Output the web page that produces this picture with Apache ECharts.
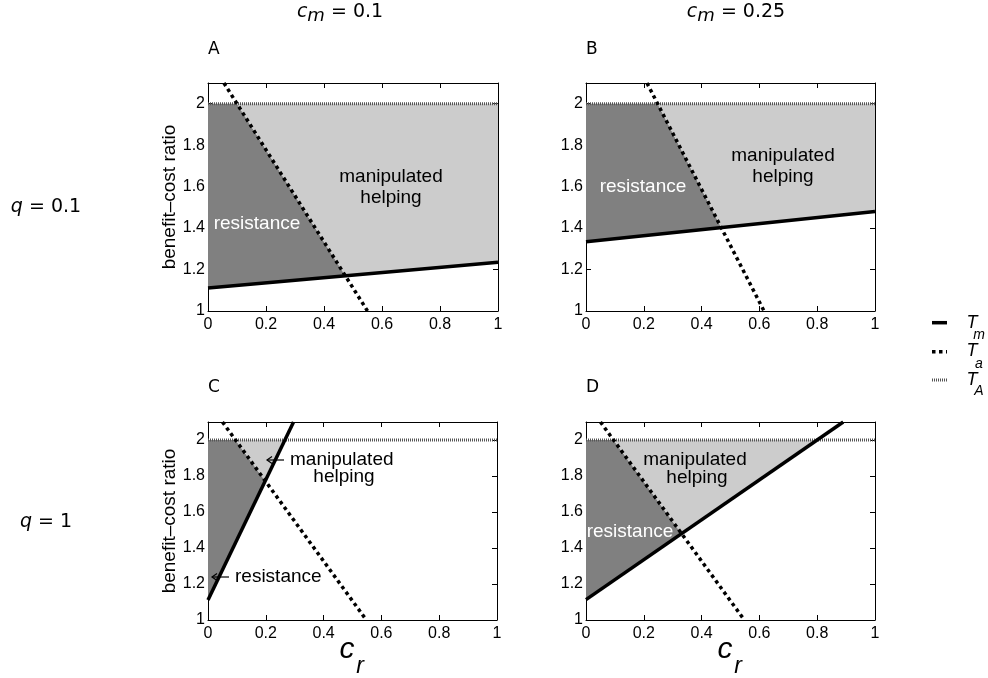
<!DOCTYPE html>
<html><head><meta charset="utf-8">
<script src="https://cdn.jsdelivr.net/npm/echarts@6/dist/echarts.min.js"></script>
<style>html,body{margin:0;padding:0;background:#fff}#c{width:988px;height:678px}</style>
</head><body><div id="c"></div>
<script>
// ---------- data ----------
const crTicks = [0, 0.2, 0.4, 0.6, 0.8, 1];
const ratioTicks = [1, 1.2, 1.4, 1.6, 1.8, 2];
const ratioMax = 2.1;
const panelNames = ['A', 'B', 'C', 'D'];
const cmLabels = ['0.1', '0.25'];
const qLabels = ['0.1', '1'];
// T_m (solid), T_a (dotted), T_A (fine dotted) as [c_r, benefit-cost ratio] points
const TmA = [[0, 1.111], [1, 1.235]];
const TaA = [[0.055, 2.1], [0.55, 1.0]];
const TmB = [[0, 1.334], [1, 1.48]];
const TaB = [[0.211, 2.1], [0.616, 1.0]];
const TmC = [[0, 1.111], [0.296, 2.1]];
const TaC = [[0.05, 2.1], [0.548, 1.0]];
const TmD = [[0, 1.113], [0.89, 2.1]];
const TaD = [[0.05, 2.1], [0.548, 1.0]];
const TA = [[0, 2], [1, 2]];
const TmAll = [TmA, TmB, TmC, TmD];
const TaAll = [TaA, TaB, TaC, TaD];

// ---------- helpers ----------
function lineY(seg, x) {
  const [[x1, y1], [x2, y2]] = seg;
  return y1 + (x - x1) * (y2 - y1) / (x2 - x1);
}
function clip(poly, h) {
  const out = [];
  for (let i = 0; i < poly.length; i++) {
    const a = poly[i], b = poly[(i + 1) % poly.length];
    const ha = h(a), hb = h(b);
    if (ha >= 0) out.push(a);
    if ((ha >= 0) !== (hb >= 0)) {
      const t = ha / (ha - hb);
      out.push([a[0] + t * (b[0] - a[0]), a[1] + t * (b[1] - a[1])]);
    }
  }
  return out;
}
const rect = [[crTicks[0], ratioTicks[0]], [crTicks[crTicks.length - 1], ratioTicks[0]],
              [crTicks[crTicks.length - 1], ratioMax], [crTicks[0], ratioMax]];

const grids = [
  {left: 208, top: 83, width: 290, height: 228},
  {left: 586, top: 83, width: 289, height: 228},
  {left: 208, top: 422, width: 289, height: 198},
  {left: 586, top: 422, width: 289, height: 198}
];
const tickFont = {color: '#000', fontSize: 16, fontFamily: 'Liberation Sans'};
const xAxes = [], yAxes = [], series = [];
for (let pos = 0; pos < 2; pos++) {
  for (let i = 0; i < 4; i++) {
    const common = {type: 'value', gridIndex: i,
      axisLine: {onZero: false, lineStyle: {color: '#000', width: 1}},
      axisTick: {inside: true, length: 5, lineStyle: {color: '#000', width: 1}},
      splitLine: {show: false}};
    xAxes.push(Object.assign({}, common, {
      min: crTicks[0], max: crTicks[crTicks.length - 1], interval: crTicks[1] - crTicks[0],
      position: pos === 0 ? 'bottom' : 'top',
      axisLabel: pos === 0 ? Object.assign({margin: 6}, tickFont) : {show: false}
    }));
    yAxes.push(Object.assign({}, common, {
      min: ratioTicks[0], max: ratioMax, interval: ratioTicks[1] - ratioTicks[0],
      position: pos === 0 ? 'left' : 'right',
      axisLabel: pos === 0 ? Object.assign({margin: 3,
        formatter: v => (v > ratioTicks[ratioTicks.length - 1] + 0.01 ? '' : String(+v.toFixed(1)))}, tickFont) : {show: false},
      name: (pos === 0 && i % 2 === 0) ? 'benefit\u2013cost ratio' : '',
      nameLocation: 'middle', nameGap: 20,
      nameTextStyle: {color: '#000', fontSize: 19, fontFamily: 'Liberation Sans'}
    }));
  }
}
function polySeries(i, poly, color) {
  return {type: 'custom', xAxisIndex: i, yAxisIndex: i, silent: true, z: 1,
    data: poly,
    renderItem: (params, api) => {
      if (params.dataIndex !== 0) return null;
      return {type: 'polygon', shape: {points: poly.map(p => api.coord(p))},
              style: {fill: color}};
    }};
}
for (let i = 0; i < 4; i++) {
  const Tm = TmAll[i], Ta = TaAll[i];
  const aboveTm = p => p[1] - lineY(Tm, p[0]);
  const belowTa = p => lineY(Ta, p[0]) - p[1];
  const aboveTa = p => p[1] - lineY(Ta, p[0]);
  const belowTA = p => lineY(TA, p[0]) - p[1];
  const dark = clip(clip(clip(rect, aboveTm), belowTa), belowTA);
  const light = clip(clip(clip(rect, aboveTm), aboveTa), belowTA);
  series.push(polySeries(i, dark, '#808080'));
  series.push(polySeries(i, light, '#cccccc'));
  const base = {type: 'line', xAxisIndex: i, yAxisIndex: i, symbol: 'none', silent: true, clip: true};
  series.push(Object.assign({}, base, {name: 'T_A', data: TA, z: 3,
    lineStyle: {color: '#555', width: 3, type: [1, 1], cap: 'butt'}}));
  series.push(Object.assign({}, base, {name: 'T_m', data: Tm, z: 4,
    lineStyle: {color: '#000', width: 3.5}}));
  series.push(Object.assign({}, base, {name: 'T_a', data: Ta, z: 5,
    lineStyle: {color: '#000', width: 3.5, type: [3.5, 3.5], cap: 'butt'}}));
}

// ---------- annotations ----------
const g = [];
function txt(x, y, text, opt) {
  g.push({type: 'text', x: x, y: y, z: 100, style: Object.assign({
    text: text, fill: '#000', fontSize: 19, fontFamily: 'Liberation Sans',
    align: 'center', verticalAlign: 'middle', textAlign: 'center', textVerticalAlign: 'middle'
  }, opt || {})});
}
function arrow(x1, x2, y) {
  const st = {stroke: '#000', lineWidth: 1.2, fill: null};
  g.push({type: 'line', z: 100, shape: {x1: x1, y1: y, x2: x2, y2: y}, style: st});
  g.push({type: 'polyline', z: 100, shape: {points: [[x1 + 5, y - 3.5], [x1, y], [x1 + 5, y + 3.5]]}, style: st});
}
const dv = {fontFamily: 'DejaVu Sans', fontSize: 19,
  rich: {i: {fontStyle: 'italic', fontFamily: 'DejaVu Sans', fontSize: 19},
         s: {fontStyle: 'italic', fontFamily: 'DejaVu Sans', fontSize: 18, padding: [7, 0, 0, 0]}}};
txt(340, 12.5, '{i|c}{s|m} = ' + cmLabels[0], dv);
txt(736, 12.5, '{i|c}{s|m} = ' + cmLabels[1], dv);
txt(46, 207, '{i|q} = ' + qLabels[0], dv);
txt(46, 522, '{i|q} = ' + qLabels[1], dv);
const letterPos = [[208, 50], [586, 50], [208, 388], [586, 388]];
panelNames.forEach((n, i) => txt(letterPos[i][0], letterPos[i][1], n,
  {fontFamily: 'DejaVu Sans', fontSize: 17, align: 'left', textAlign: 'left'}));
// c_r axis titles
[347, 725].forEach(x => {
  txt(x, 650, 'c', {fontStyle: 'italic', fontSize: 30});
  txt(x + 13, 667, 'r', {fontStyle: 'italic', fontSize: 23});
});
// region labels
txt(391, 177, 'manipulated'); txt(391, 198, 'helping');
txt(257, 224, 'resistance', {fill: '#fff'});
txt(783, 156, 'manipulated'); txt(783, 177, 'helping');
txt(643, 187, 'resistance', {fill: '#fff'});
arrow(267, 284, 460); txt(290, 459.5, 'manipulated', {align: 'left', textAlign: 'left'});
txt(344, 477, 'helping');
arrow(212, 229, 577); txt(235, 577, 'resistance', {align: 'left', textAlign: 'left'});
txt(695, 459.3, 'manipulated'); txt(697, 477.3, 'helping');
txt(630, 531.7, 'resistance', {fill: '#fff'});
// legend
function lg(y, w, dash, color) {
  g.push({type: 'line', z: 100, shape: {x1: 932, y1: y, x2: 947, y2: y},
    style: {stroke: color, lineWidth: w, lineDash: dash, lineCap: 'butt'}});
}
lg(322.7, 3.5, null, '#000');
lg(351.7, 3.5, [3.5, 3.5], '#000');
lg(380, 3, [1, 1], '#555');
const legT = [[323, 335, 'm'], [351, 364, 'a'], [380, 391, 'A']];
legT.forEach(([ty, sy, s]) => {
  txt(972, ty, 'T', {fontStyle: 'italic', fontSize: 18});
  txt(979, sy, s, {fontStyle: 'italic', fontSize: 14});
});

const chart = echarts.init(document.getElementById('c'), null, {renderer: 'canvas'});
chart.setOption({
  animation: false,
  backgroundColor: '#fff',
  grid: grids,
  xAxis: xAxes,
  yAxis: yAxes,
  series: series,
  graphic: g
});
</script></body></html>
